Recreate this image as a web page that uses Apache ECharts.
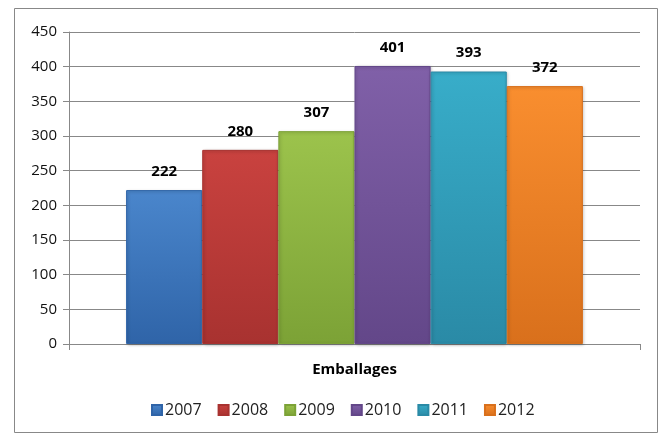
<!DOCTYPE html>
<html><head><meta charset="utf-8">
<script src="https://cdn.jsdelivr.net/npm/echarts@6/dist/echarts.min.js"></script>
<style>html,body{margin:0;padding:0;background:#fff}#c{width:661px;height:438px}</style>
</head><body><div id="c"></div>
<script>
const categories = ['Emballages'];
const years = ['2007','2008','2009','2010','2011','2012'];
const values = [222, 280, 307, 401, 393, 372];
const colors = [
  ['#4a86cc','#2f64a8'],
  ['#c9423f','#a83230'],
  ['#9cc34c','#7ca236'],
  ['#8060a8','#634789'],
  ['#38adc9','#2a8aa6'],
  ['#f98e2f','#d9701c']
];
const legendColors = ['#3a6fb5','#b83a38','#8db543','#7a5a9c','#32a0bc','#f08428'];
const font = 'Open Sans, Noto Sans, sans-serif';

const chart = echarts.init(document.getElementById('c'));
const series = years.map((y, i) => ({
  name: y,
  type: 'bar',
  barGap: '0%',
  barCategoryGap: '20%',
  data: [values[i]],
  itemStyle: {
    color: new echarts.graphic.LinearGradient(0, 0, 0, 1, [
      {offset: 0, color: colors[i][0]}, {offset: 1, color: colors[i][1]}
    ]),
    borderColor: colors[i][1],
    borderWidth: 1,
    shadowColor: 'rgba(0,0,0,0.25)', shadowBlur: 3, shadowOffsetX: 1, shadowOffsetY: 1
  },
  label: {
    show: true, position: 'top', distance: 11,
    fontFamily: font, fontWeight: 'bold', fontSize: 15, color: '#000'
  }
}));
chart.setOption({
  animation: false,
  color: legendColors,
  graphic: [{
    type: 'rect', shape: {x: 14.5, y: 8.5, width: 643, height: 424},
    style: {fill: 'none', stroke: '#888', lineWidth: 1}, z: -1
  }],
  legend: {
    bottom: 15, left: 146, itemWidth: 10, itemHeight: 10, itemGap: 16,
    icon: 'rect',
    textStyle: {fontFamily: font, fontSize: 16, color: '#222', padding: [0,0,0,-2]},
    data: years
  },
  grid: {left: 69, right: 21, top: 32, bottom: 94},
  xAxis: {
    type: 'category', data: categories,
    axisLine: {lineStyle: {color: '#888'}},
    axisTick: {show: true, length: 6, lineStyle: {color: '#888'}},
    axisLabel: {fontFamily: font, fontWeight: 'bold', fontSize: 15, color: '#000', margin: 18}
  },
  yAxis: {
    type: 'value', min: 0, max: 450, interval: 50,
    axisLine: {show: true, lineStyle: {color: '#888'}},
    axisTick: {show: true, length: 6, lineStyle: {color: '#888'}},
    splitLine: {lineStyle: {color: '#888'}},
    axisLabel: {fontFamily: font, fontSize: 15, color: '#111', margin: 12}
  },
  series: series
});
</script></body></html>
